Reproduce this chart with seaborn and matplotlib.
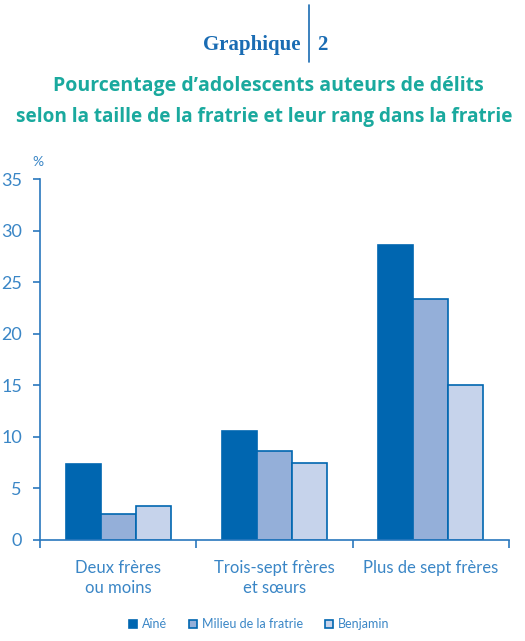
import pandas as pd
import seaborn as sns
import matplotlib.pyplot as plt
from matplotlib.lines import Line2D

# data
tailles = ["Deux frères\nou moins", "Trois-sept frères\net sœurs", "Plus de sept frères"]
rangs = ["Aîné", "Milieu de la fratrie", "Benjamin"]
aine = [7.4, 10.6, 28.6]
milieu = [2.5, 8.6, 23.4]
benjamin = [3.3, 7.5, 15.0]

df = pd.DataFrame({
    "taille": tailles * 3,
    "rang": [rangs[0]] * 3 + [rangs[1]] * 3 + [rangs[2]] * 3,
    "pct": aine + milieu + benjamin,
})

dark = "#0066b0"
axis_col = "#2a78bd"
text_col = "#3a86c6"
teal = "#1aa99e"
palette = {rangs[0]: "#0066b0", rangs[1]: "#94afd9", rangs[2]: "#c6d3eb"}

sns.set_style("white")
plt.rcParams["font.family"] = ["Lato", "DejaVu Sans"]

fig = plt.figure(figsize=(5.25, 6.41), dpi=100)
ax = fig.add_axes([40 / 525, 1 - 540 / 641, 469 / 525, 361 / 641])

sns.barplot(data=df, x="taille", y="pct", hue="rang", palette=palette,
            saturation=1, edgecolor=dark, linewidth=1.2, width=0.67, ax=ax)

ax.set_ylim(0, 35)
ax.set_xlim(-0.5, 2.5)
ax.set_yticks(range(0, 36, 5))
ax.set_xticks([-0.5, 0.5, 1.5, 2.5])
ax.set_xticklabels([])
for i, t in enumerate(tailles):
    ax.text(i, -1.9, t, ha="center", va="top", fontsize=12, color=text_col,
            linespacing=1.35)
ax.set_xlabel("")
ax.set_ylabel("")
ax.tick_params(axis="y", colors=axis_col, labelcolor=text_col, labelsize=13,
               length=5, width=1.2, left=True, pad=8)
ax.tick_params(axis="x", colors=axis_col, length=6, width=1.2, bottom=True)
for s in ["top", "right"]:
    ax.spines[s].set_visible(False)
for s in ["left", "bottom"]:
    ax.spines[s].set_color(axis_col)
    ax.spines[s].set_linewidth(1.2)

ax.text(-0.005, 1.03, "%", transform=ax.transAxes, fontsize=10, color=text_col,
        ha="center", va="bottom")

ax.get_legend().remove()
handles = [Line2D([0], [0], marker="s", linestyle="", markersize=6,
                  markerfacecolor=palette[r], markeredgecolor=dark,
                  markeredgewidth=1.2) for r in rangs]
fig.legend(handles, rangs, loc="center", bbox_to_anchor=(258 / 525, 1 - 624 / 641),
           ncol=3, frameon=False, fontsize=9, labelcolor=text_col,
           handletextpad=0.2, columnspacing=1.6, handlelength=1.0)

# header
fig.text(300 / 525, 1 - 45 / 641, "Graphique", ha="right", va="center",
         fontsize=15, fontweight="bold", color="#1a6cb3",
         family=["Liberation Serif", "DejaVu Serif"])
fig.text(317 / 525, 1 - 45 / 641, "2", ha="left", va="center",
         fontsize=15, fontweight="bold", color="#1a6cb3",
         family=["Liberation Serif", "DejaVu Serif"])
fig.add_artist(Line2D([309 / 525, 309 / 525], [1 - 5 / 641, 1 - 62 / 641],
                      color="#1a6cb3", linewidth=1.2))

fig.text(268 / 525, 1 - 86 / 641, "Pourcentage d’adolescents auteurs de délits",
         ha="center", va="center", fontsize=14, fontweight="bold", color=teal,
         family=["Open Sans", "DejaVu Sans"])
fig.text(264 / 525, 1 - 117 / 641,
         "selon la taille de la fratrie et leur rang dans la fratrie",
         ha="center", va="center", fontsize=13.7, fontweight="bold", color=teal,
         family=["Open Sans", "DejaVu Sans"])

plt.savefig("out.png", dpi=100)
